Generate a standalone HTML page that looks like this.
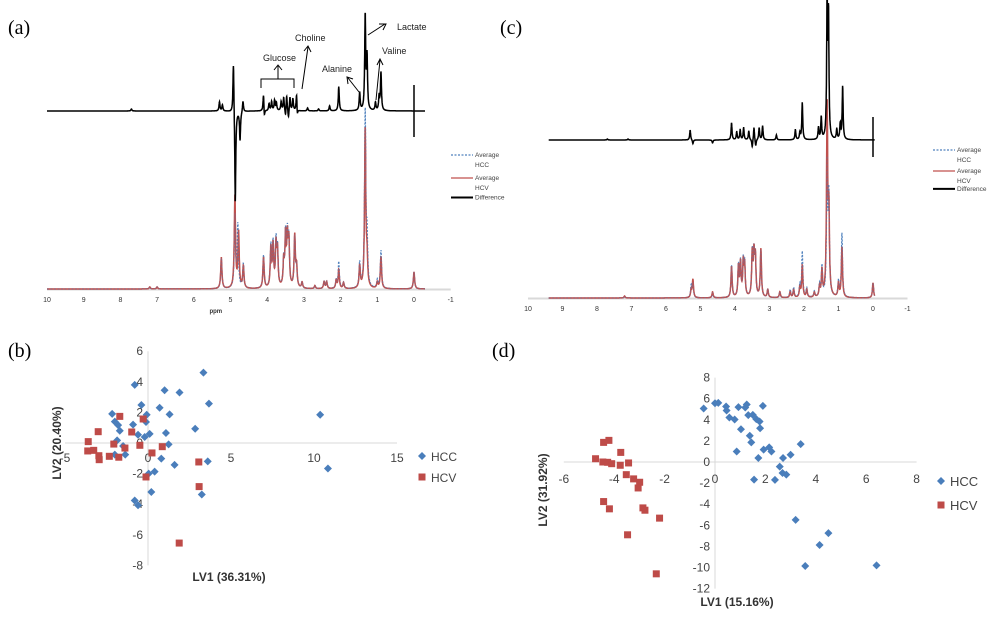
<!DOCTYPE html>
<html><head><meta charset="utf-8">
<style>
body{margin:0;background:#fff;width:1000px;height:620px;overflow:hidden;font-family:"Liberation Sans",sans-serif;}
svg{position:absolute;left:0;top:0;}
</style></head>
<body>
<svg id="fig" width="1000" height="620" viewBox="0 0 1000 620">
  <text x="8" y="34" font-family="Liberation Serif" font-size="20">(a)</text>
  <text x="500" y="34" font-family="Liberation Serif" font-size="20">(c)</text>
  <text x="8" y="357" font-family="Liberation Serif" font-size="20">(b)</text>
  <text x="492" y="357" font-family="Liberation Serif" font-size="20">(d)</text>
  <g id="pa"></g>
  <g id="pc"></g>
  <g id="pb"></g>
  <g id="pd"></g>
  <g fill="none" stroke="#000" stroke-width="1">
    <path d="M261,88 V79 H294 V88"/>
    <path d="M278,79 V66 M274,70 L278,65 L282,70"/>
    <path d="M302,89 L308,47 M304,51 L308,46 L311,52"/>
    <path d="M359,92 L348,78 M348,84 L347,77 L353,79"/>
    <path d="M368,35 L385,24 M379,24 L386,24 L383,30"/>
    <path d="M376,100 L380,60 M377,65 L380,59 L383,65"/>
  </g>
  <g font-size="9" fill="#222">
    <text x="263" y="61">Glucose</text>
    <text x="295" y="41">Choline</text>
    <text x="322" y="72">Alanine</text>
    <text x="397" y="30">Lactate</text>
    <text x="382" y="54">Valine</text>
  </g>
</svg>
<script>
const NS="http://www.w3.org/2000/svg";
function mk(parent,tag,attrs,text){const e=document.createElementNS(NS,tag);for(const k in attrs)e.setAttribute(k,attrs[k]);if(text!==undefined)e.textContent=text;parent.appendChild(e);return e;}

// ---------- spectra data (ppm, height) ----------
const ppmTicks=[10,9,8,7,6,5,4,3,2,1,0,-1];
const aHCV=[[5.25,31],[4.88,92],[4.78,55],[4.65,22],[4.1,31],[3.9,39],[3.84,41],[3.76,41],[3.72,35],[3.55,25],[3.5,49],[3.45,46],[3.41,44],[3.25,52],[3.2,20],[3.05,6],[2.7,3],[2.45,7],[2.38,7],[2.12,8],[2.05,19],[1.92,6],[1.48,22],[1.33,159],[1.28,26],[1.0,6],[0.9,32],[0.0,17],[7.2,2],[7.0,2]];
const aHCC=[[5.25,31],[4.88,72],[4.8,62],[4.65,24],[4.1,33],[3.9,41],[3.84,43],[3.76,44],[3.72,36],[3.55,25],[3.5,50],[3.45,48],[3.41,45],[3.25,50],[3.2,20],[3.05,6],[2.7,3],[2.45,7],[2.38,7],[2.12,8],[2.05,27],[1.92,6],[1.48,25],[1.33,176],[1.28,45],[1.0,8],[0.9,38],[0.0,17],[7.2,2],[7.0,2]];
const aDiff=[[7.7,2],[5.3,9],[5.22,6],[4.92,54],[4.87,-96],[4.74,-29],[4.66,11],[4.1,19],[4.08,-10],[3.95,7],[3.88,9],[3.8,10],[3.75,8],[3.62,9],[3.55,13],[3.5,-8],[3.47,16],[3.42,-9],[3.38,14],[3.3,12],[3.2,18],[3.18,-8],[2.9,3],[2.6,2],[2.3,5],[2.05,24],[1.48,18],[1.33,94],[1.28,52],[1.05,8],[0.95,14],[0.9,38]];
const cHCV=[[7.2,2],[5.27,8],[5.22,18],[4.65,6],[4.1,31],[3.9,30],[3.84,33],[3.76,33],[3.72,30],[3.5,43],[3.45,40],[3.41,38],[3.25,48],[3.05,8],[2.7,6],[2.4,6],[2.3,8],[2.12,10],[2.05,32],[1.92,8],[1.7,5],[1.55,10],[1.48,26],[1.33,188],[1.28,80],[1.0,14],[0.9,50],[0.0,15]];
const cHCC=[[7.2,2],[5.27,12],[5.22,14],[4.65,5],[4.1,32],[3.9,31],[3.84,34],[3.76,34],[3.72,31],[3.5,44],[3.45,40],[3.41,38],[3.25,46],[3.05,8],[2.7,6],[2.4,8],[2.3,10],[2.12,12],[2.05,46],[1.92,9],[1.7,6],[1.55,12],[1.48,30],[1.33,128],[1.28,95],[1.0,16],[0.9,64],[0.0,15]];
const cDiff=[[7.7,1],[7.1,1],[5.3,10],[5.22,-4],[4.65,-3],[4.1,17],[3.95,8],[3.85,10],[3.75,12],[3.6,9],[3.5,-8],[3.45,13],[3.4,-7],[3.3,12],[3.2,14],[2.8,5],[2.25,10],[2.12,7],[2.05,37],[1.58,12],[1.5,22],[1.33,135],[1.29,118],[1.05,10],[0.95,15],[0.88,53]];
const legendLabels=[["Average","HCC"],["Average","HCV"],["Difference"]];

function spectrum(peaks,lo,hi,w){
  const pts=[];
  for(let p=hi;p>=lo;p-=0.004){let v=0;for(const [c,h] of peaks){const d=(p-c)/w;v+=h/(1+d*d);}pts.push([p,v]);}
  return pts;
}
function drawSpectra(gid,cfg){
  const g=document.getElementById(gid);
  const X=p=>cfg.x0+(cfg.x10-cfg.x0)*(p/10);
  const path=(pts,base,sgn)=>pts.map((q,i)=>(i?'L':'M')+X(q[0]).toFixed(1)+','+(base-sgn*q[1]).toFixed(1)).join('');
  const ax=mk(g,'line',{x1:X(10),x2:X(-1),y1:cfg.base+0.5,y2:cfg.base+0.5,stroke:'#d9d9d9','stroke-width':2});
  
  
  const r=mk(g,'path',{d:path(spectrum(cfg.hcv,cfg.lo,cfg.hi,0.02),cfg.base,1),fill:'none',stroke:'#c0504d','stroke-width':1.5});
  
  
  const b=mk(g,'path',{d:path(spectrum(cfg.hcc,cfg.lo,cfg.hi,0.02),cfg.base,1),fill:'none',stroke:'#4f81bd','stroke-width':1.2,'stroke-dasharray':'2,1.5'});
  
  
  const r2=mk(g,'path',{d:path(spectrum(cfg.hcv,cfg.lo,cfg.hi,0.02),cfg.base,1),fill:'none',stroke:'#c0504d','stroke-width':1.2,opacity:0.7});
  
  
  const d=mk(g,'path',{d:path(spectrum(cfg.diff,cfg.lo,cfg.hi,0.016),cfg.dbase,1),fill:'none',stroke:'#000','stroke-width':1.5});
  
  
  const zl=mk(g,'line',{x1:X(0),x2:X(0),y1:cfg.dbase-cfg.zUp,y2:cfg.dbase+cfg.zDn,stroke:'#000','stroke-width':1.5});
  
  
  ppmTicks.forEach(t=>{
    const tx=mk(g,'text',{x:X(t),y:cfg.base+13,'font-size':7,'text-anchor':'middle',fill:'#333'},String(t));
    
    
  });
  if(cfg.ppm){const p=mk(g,'text',{x:X(5.4),y:cfg.base+24,'font-size':6,'text-anchor':'middle',fill:'#333','font-weight':'bold'},'ppm');
    
    }
  const L=cfg.leg;
  const styles=[{stroke:'#4f81bd','stroke-dasharray':'2,1.5','stroke-width':1.3},{stroke:'#c0504d','stroke-width':1.3},{stroke:'#000','stroke-width':2}];
  const ys=[L.y,L.y+L.dy,L.y+2*L.dy-L.dy*0.15];
  legendLabels.forEach((lab,i)=>{
    const s=Object.assign({x1:L.x,x2:L.x+22,y1:ys[i],y2:ys[i]},styles[i]);
    const ln=mk(g,'line',s);
    
    
    lab.forEach((t,j)=>{const tx=mk(g,'text',{x:L.x+24,y:ys[i]+2+j*10,'font-size':6.5,fill:'#444'},t);
      
      });
  });
}
drawSpectra('pa',{x0:414,x10:47,base:289,dbase:111,lo:-0.3,hi:10,hcv:aHCV,hcc:aHCC,diff:aDiff,zUp:26,zDn:26,ppm:true,leg:{x:451,y:155,dy:23}});
drawSpectra('pc',{x0:873,x10:528,base:298,dbase:140,lo:-0.05,hi:9.4,hcv:cHCV,hcc:cHCC,diff:cDiff,zUp:23,zDn:17,ppm:false,leg:{x:933,y:150,dy:21}});

// ---------- scatter data ----------
const bHCCx=[3.34,-0.8,1.0,1.9,3.67,-0.4,0.7,-2.16,-0.08,1.3,-2.0,-1.8,-0.9,-0.12,-1.7,2.84,1.08,-0.6,0.1,-0.2,-1.86,1.24,-1.5,-2.0,-1.37,0.8,3.6,1.6,10.37,10.84,0.4,0.04,0.2,3.24,-0.8,-0.6];
const bHCCy=[4.6,3.8,3.45,3.3,2.57,2.48,2.3,1.9,1.85,1.87,1.4,1.17,1.2,1.37,0.8,0.93,0.65,0.54,0.6,0.39,0.17,-0.09,-0.2,-0.76,-0.76,-1.02,-1.2,-1.43,1.85,-1.67,-1.87,-2.0,-3.2,-3.37,-3.76,-4.07];
const bHCVx=[-1.7,-0.29,-3.0,-0.98,-3.6,-2.06,-1.39,-0.49,0.86,-3.63,-3.27,-2.96,-2.94,-2.33,-1.76,0.24,3.06,-0.12,3.08,1.88];
const bHCVy=[1.74,1.57,0.74,0.72,0.09,-0.07,-0.33,-0.15,-0.24,-0.52,-0.48,-0.83,-1.09,-0.87,-0.93,-0.65,-1.24,-2.22,-2.85,-6.54];
const bXTicks=[-5,0,5,10,15];
const bYTicks=[6,4,2,0,-2,-4,-6,-8];
const dHCCx=[-0.45,0,0.13,0.44,0.46,0.57,0.78,0.93,1.2,1.26,1.32,1.5,1.64,1.77,1.9,1.79,1.03,1.38,1.44,0.86,1.93,2.15,2.24,1.72,2.7,3.0,3.4,2.57,2.68,2.83,1.55,2.38,3.2,4.5,4.15,3.58,6.41];
const dHCCy=[5.07,5.57,5.6,5.26,4.88,4.22,4.03,5.2,5.17,5.45,4.44,4.47,4.06,3.84,5.32,3.2,3.1,2.49,1.86,1.0,1.17,1.39,1.0,0.38,0.38,0.69,1.7,-0.44,-1.04,-1.2,-1.67,-1.7,-5.48,-6.74,-7.87,-9.86,-9.8];
const dHCVx=[-4.42,-4.21,-3.74,-4.74,-4.45,-4.26,-4.1,-3.76,-3.43,-3.52,-3.23,-2.99,-3.05,-4.42,-4.19,-2.86,-2.78,-2.2,-3.47,-2.33];
const dHCVy=[1.86,2.05,0.91,0.31,0,-0.03,-0.16,-0.31,-0.09,-1.2,-1.6,-1.92,-2.46,-3.75,-4.44,-4.35,-4.57,-5.32,-6.9,-10.6];
const dXTicks=[-6,-4,-2,0,2,4,6,8];
const dYTicks=[8,6,4,2,0,-2,-4,-6,-8,-10,-12];

function drawScatter(gid,c){
  const g=document.getElementById(gid);
  const X=v=>c.x0+v*c.sx, Y=v=>c.y0-v*c.sy;
  const xa=mk(g,'line',{x1:X(c.xmin),x2:X(c.xmax),y1:Y(0),y2:Y(0),stroke:'#d9d9d9','stroke-width':1});
  
  
  const ya=mk(g,'line',{x1:X(0),x2:X(0),y1:Y(c.ymax),y2:Y(c.ymin),stroke:'#d9d9d9','stroke-width':1});
  
  
  c.xt.forEach(t=>{const e=mk(g,'text',{x:X(t),y:Y(0)+c.xlo,'font-size':c.fs,'text-anchor':'middle',fill:'#444'},String(t));
    
    });
  c.yt.forEach(t=>{const e=mk(g,'text',{x:X(0)-5,y:Y(t)+4,'font-size':c.fs,'text-anchor':'end',fill:'#444'},String(t));
    
    });
  c.hx.forEach((v,i)=>{const x=X(v),y=Y(c.hy[i]);
    const p=mk(g,'path',{d:`M${x},${y-4}L${x+4},${y}L${x},${y+4}L${x-4},${y}Z`,fill:'#4a7ebb'});
    
    });
  c.vx.forEach((v,i)=>{const x=X(v),y=Y(c.vy[i]);
    const p=mk(g,'rect',{x:x-3.5,y:y-3.5,width:7,height:7,fill:'#be4b48'});
    
    });
  const xt=mk(g,'text',{x:c.xtl[0],y:c.xtl[1],'font-size':12,'font-weight':'bold','text-anchor':'middle',fill:'#333'},c.xlab);
  
  
  const yt=mk(g,'text',{x:0,y:0,'font-size':12,'font-weight':'bold','text-anchor':'middle',fill:'#333',transform:`translate(${c.ytl[0]},${c.ytl[1]}) rotate(-90)`},c.ylab);
  
  
  const L=c.leg;
  const d=mk(g,'path',{d:`M${L.x},${L.y-4}L${L.x+4},${L.y}L${L.x},${L.y+4}L${L.x-4},${L.y}Z`,fill:'#4a7ebb'});
  
  
  const s=mk(g,'rect',{x:L.x-3.5,y:L.y+L.dy-3.5,width:7,height:7,fill:'#be4b48'});
  
  
  const t1=mk(g,'text',{x:L.x+9,y:L.y+5,'font-size':L.fs,fill:'#444'},'HCC');
  
  
  const t2=mk(g,'text',{x:L.x+9,y:L.y+L.dy+5,'font-size':L.fs,fill:'#444'},'HCV');
  
  
}
drawScatter('pb',{x0:148,sx:16.6,y0:443,sy:15.3,xmin:-5,xmax:15,ymin:-8,ymax:6,xt:bXTicks,yt:bYTicks,xlo:19,fs:12,hx:bHCCx,hy:bHCCy,vx:bHCVx,vy:bHCVy,xlab:'LV1 (36.31%)',ylab:'LV2 (20.40%)',xtl:[229,581],ytl:[61,443],leg:{x:422,y:456,dy:21,fs:12}});
drawScatter('pd',{x0:715,sx:25.2,y0:462,sy:10.55,xmin:-6,xmax:8,ymin:-12,ymax:8,xt:dXTicks,yt:dYTicks,xlo:21,fs:12,hx:dHCCx,hy:dHCCy,vx:dHCVx,vy:dHCVy,xlab:'LV1 (15.16%)',ylab:'LV2 (31.92%)',xtl:[737,606],ytl:[547,490],leg:{x:941,y:481,dy:24,fs:13}});
</script>
</body></html>
